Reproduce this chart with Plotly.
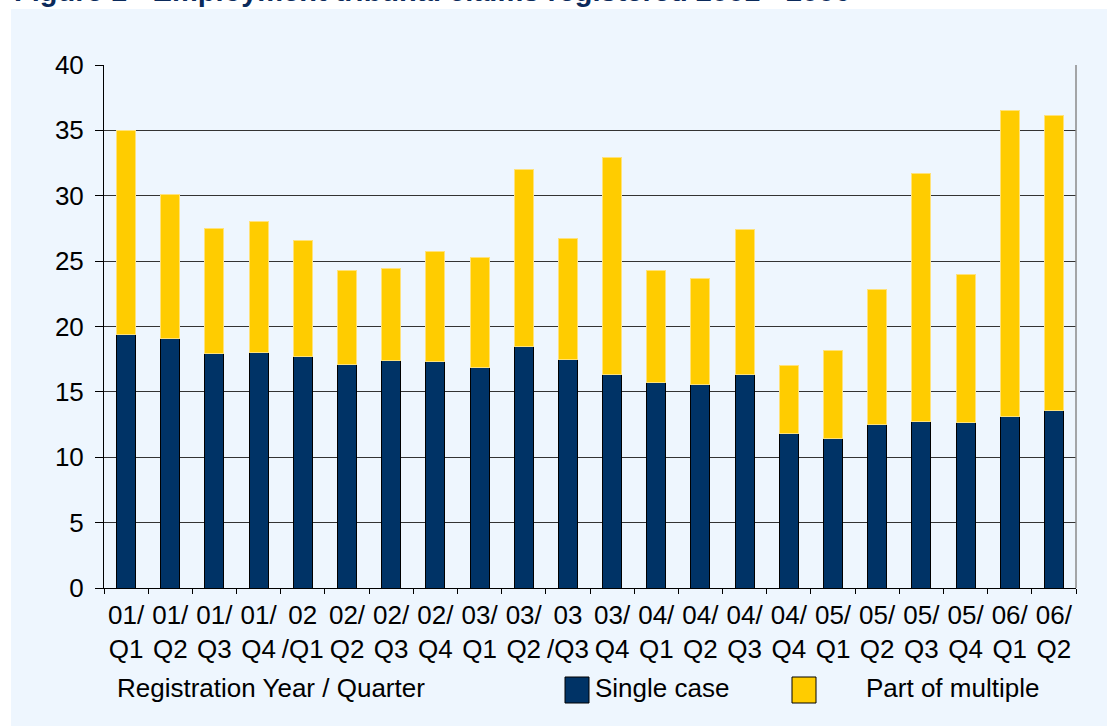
"""
Employment tribunal claims registered 2001 - 2006, stacked by claim type.
"""

import plotly.graph_objects as go

# Quarter labels as printed under the axis
quarters = [
    '01/<br>Q1', '01/<br>Q2', '01/<br>Q3', '01/<br>Q4',
    '02<br>/Q1', '02/<br>Q2', '02/<br>Q3', '02/<br>Q4',
    '03/<br>Q1', '03/<br>Q2', '03<br>/Q3', '03/<br>Q4',
    '04/<br>Q1', '04/<br>Q2', '04/<br>Q3', '04/<br>Q4',
    '05/<br>Q1', '05/<br>Q2', '05/<br>Q3', '05/<br>Q4',
    '06/<br>Q1', '06/<br>Q2',
]

# Claims (thousands)
single_case = [19.4, 19.1, 17.9, 18.0, 17.7, 17.1, 17.4, 17.3, 16.9, 18.5, 17.45,
               16.3, 15.7, 15.6, 16.3, 11.8, 11.4, 12.5, 12.7, 12.65, 13.1, 13.6]
part_of_multiple = [15.6, 11.0, 9.6, 10.0, 8.9, 7.2, 7.0, 8.4, 8.4, 13.5, 9.25,
                    16.6, 8.6, 8.1, 11.1, 5.2, 6.8, 10.35, 19.0, 11.35, 23.4, 22.5]

NAVY = '#003366'
YELLOW = '#FFCC00'
PANEL = '#EEF6FE'

W, H = 1107, 726
L, R, T, B = 104, 31, 65, 138


def px_x(p):
    return (p - L) / (W - L - R)


def px_y(p):
    return (H - B - p) / (H - T - B)


fig = go.Figure()

fig.add_trace(go.Bar(
    x=quarters,
    y=single_case,
    name='Single case',
    marker=dict(color=NAVY, line=dict(color='#000000', width=1)),
))
fig.add_trace(go.Bar(
    x=quarters,
    y=part_of_multiple,
    name='Part of multiple',
    marker=dict(color=YELLOW, line=dict(color='#FFE27A', width=1)),
))

font = dict(family='Arial, Liberation Sans, sans-serif', size=26, color='#000000')

shapes = [
    # light blue panel behind everything
    dict(type='rect', xref='paper', yref='paper', layer='below',
         x0=px_x(11), x1=px_x(W + 5), y0=px_y(H + 5), y1=px_y(9),
         fillcolor=PANEL, line=dict(width=0)),
    # right border of the plot box
    dict(type='line', xref='paper', yref='paper', x0=1, x1=1, y0=0, y1=1,
         line=dict(color='#8a8a8a', width=1.5)),
    # legend keys
    dict(type='rect', xref='paper', yref='paper',
         x0=px_x(565), x1=px_x(589), y0=px_y(703), y1=px_y(677),
         fillcolor=NAVY, line=dict(color='#000000', width=1)),
    dict(type='rect', xref='paper', yref='paper',
         x0=px_x(792), x1=px_x(816), y0=px_y(703), y1=px_y(677),
         fillcolor=YELLOW, line=dict(color='#000000', width=1)),
]

annotations = [
    # the title sits mostly above the top edge, as in the source image
    dict(text='Figure 1 - Employment tribunal claims registered 2001 - 2006',
         xref='paper', yref='paper', x=px_x(12), y=px_y(-9),
         xanchor='left', yanchor='middle', showarrow=False,
         font=dict(family='Arial, Liberation Sans, sans-serif', size=29,
                   color='#0B2A5B', weight='bold')),
    dict(text='Registration Year / Quarter', xref='paper', yref='paper',
         x=px_x(115), y=px_y(688), xanchor='left', yanchor='middle',
         showarrow=False, font=font),
    dict(text='Single case', xref='paper', yref='paper',
         x=px_x(593), y=px_y(688), xanchor='left', yanchor='middle',
         showarrow=False, font=font),
    dict(text='Part of multiple', xref='paper', yref='paper',
         x=px_x(864), y=px_y(688), xanchor='left', yanchor='middle',
         showarrow=False, font=font),
]

fig.update_layout(
    barmode='stack',
    bargap=0.57,
    width=W,
    height=H,
    margin=dict(l=L, r=R, t=T, b=B, pad=0),
    paper_bgcolor='#FFFFFF',
    plot_bgcolor=PANEL,
    showlegend=False,
    font=font,
    shapes=shapes,
    annotations=annotations,
    xaxis=dict(
        type='category',
        showline=True, linecolor='#000000', linewidth=1,
        ticks='outside', tickson='boundaries', ticklen=5,
        tickcolor='#000000', showgrid=False,
        tickfont=font, tickangle=0, ticklabelstandoff=4,
    ),
    yaxis=dict(
        range=[0, 40], dtick=5,
        showline=True, linecolor='#000000', linewidth=1,
        ticks='outside', ticklen=8, tickcolor='#000000',
        showgrid=True, gridcolor='#333333', gridwidth=1.2,
        zeroline=False, tickfont=font, ticklabelstandoff=6,
    ),
)

# drop the browser's default page margin so the figure sits at the top-left
fig.write_html("out.html", config={'displayModeBar': False},
               post_script="document.body.style.margin='0';")
